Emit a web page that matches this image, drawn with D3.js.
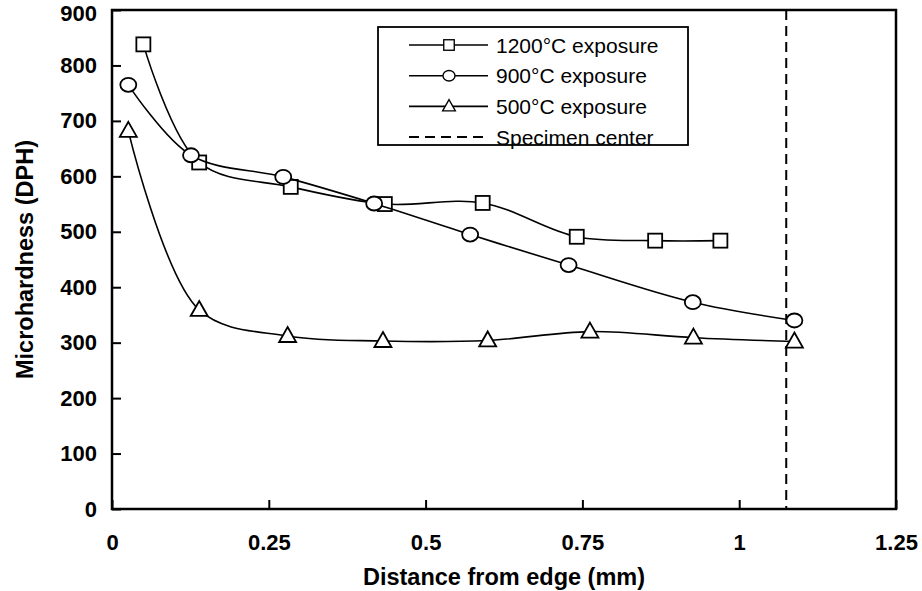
<!DOCTYPE html>
<html>
<head>
<meta charset="utf-8">
<script src="https://cdn.jsdelivr.net/npm/d3@7"></script>
<style>
  body { margin: 0; background: #fff; }
  svg { display: block; }
</style>
</head>
<body>
<div id="chart"></div>
<script>
// data
const seriesNames = ["1200°C exposure", "900°C exposure", "500°C exposure"];
const markerTypes = ["square", "circle", "triangle"];

const dist1200 = [0.050, 0.139, 0.285, 0.435, 0.591, 0.741, 0.866, 0.970];
const hard1200 = [838, 625, 581, 550, 552, 491, 484, 484];

const dist900 = [0.026, 0.126, 0.273, 0.418, 0.571, 0.728, 0.926, 1.088];
const hard900 = [765, 638, 599, 551, 495, 440, 373, 340];

const dist500 = [0.026, 0.139, 0.280, 0.432, 0.599, 0.762, 0.927, 1.088];
const hard500 = [682, 359, 312, 303, 304, 320, 309, 302];

const centerDist = 1.075;
const centerLabel = "Specimen center";

const xTicks = [0, 0.25, 0.5, 0.75, 1, 1.25];
const yTicks = [0, 100, 200, 300, 400, 500, 600, 700, 800, 900];

const series = [
  { name: seriesNames[0], marker: markerTypes[0], xs: dist1200, ys: hard1200 },
  { name: seriesNames[1], marker: markerTypes[1], xs: dist900, ys: hard900 },
  { name: seriesNames[2], marker: markerTypes[2], xs: dist500, ys: hard500 },
];

const W = 922, H = 591;
const margin = { top: 10, right: 26, bottom: 82, left: 112 };
const width = W - margin.left - margin.right;
const height = H - margin.top - margin.bottom;

const svg = d3.select("#chart").append("svg")
  .attr("width", W)
  .attr("height", H);

const g = svg.append("g")
  .attr("transform", `translate(${margin.left},${margin.top})`);

const x = d3.scaleLinear().domain([0, 1.25]).range([0, width]);
const y = d3.scaleLinear().domain([0, 900]).range([height, 0]);

const fontFamily = "'Liberation Sans', Arial, sans-serif";

// axes, ticks pointing inward
const xAxis = g.append("g")
  .attr("transform", `translate(0,${height})`)
  .call(d3.axisBottom(x).tickValues(xTicks).tickSize(-9).tickPadding(25)
    .tickFormat((d) => String(d)));

const yAxis = g.append("g")
  .call(d3.axisLeft(y).tickValues(yTicks).tickSize(-9).tickPadding(15)
    .tickFormat(d3.format("d")));

[xAxis, yAxis].forEach((a) => {
  a.select(".domain").remove();
  a.selectAll(".tick line").attr("stroke", "#000").attr("stroke-width", 2);
  a.selectAll(".tick text")
    .attr("fill", "#000")
    .style("font-family", fontFamily)
    .style("font-weight", "bold")
    .style("font-size", "22px");
});

// top label sits a little lower so it is not clipped
yAxis.selectAll(".tick text")
  .filter((d) => d === 900)
  .attr("y", 3);

// plot frame
g.append("rect")
  .attr("x", 0).attr("y", 0)
  .attr("width", width).attr("height", height)
  .attr("fill", "none")
  .attr("stroke", "#000")
  .attr("stroke-width", 2.5);

// specimen center dashed line
g.append("line")
  .attr("x1", x(centerDist)).attr("x2", x(centerDist))
  .attr("y1", 0).attr("y2", height)
  .attr("stroke", "#000")
  .attr("stroke-width", 2)
  .attr("stroke-dasharray", "10,6");

const line = d3.line()
  .x((d) => x(d[0]))
  .y((d) => y(d[1]))
  .curve(d3.curveCatmullRom.alpha(0.5));

const drawMarker = (sel, type) => {
  if (type === "square") {
    sel.append("rect")
      .attr("x", -7).attr("y", -7).attr("width", 14).attr("height", 14);
  } else if (type === "circle") {
    sel.append("ellipse").attr("rx", 8).attr("ry", 7);
  } else {
    sel.append("path").attr("d", "M0,-9L8.5,6L-8.5,6Z");
  }
  sel.selectAll("*")
    .attr("fill", "#fff")
    .attr("stroke", "#000")
    .attr("stroke-width", 1.8);
};

series.forEach((s) => {
  const pts = s.xs.map((v, i) => [v, s.ys[i]]);
  g.append("path")
    .datum(pts)
    .attr("fill", "none")
    .attr("stroke", "#000")
    .attr("stroke-width", 1.6)
    .attr("d", line);

  g.append("g")
    .selectAll("g")
    .data(pts)
    .join("g")
    .attr("transform", (d) => `translate(${x(d[0])},${y(d[1])})`)
    .each(function () { drawMarker(d3.select(this), s.marker); });
});

// axis titles
svg.append("text")
  .attr("x", margin.left + width / 2)
  .attr("y", 585)
  .attr("text-anchor", "middle")
  .style("font-family", fontFamily)
  .style("font-weight", "bold")
  .style("font-size", "23.5px")
  .text("Distance from edge (mm)");

svg.append("text")
  .attr("transform", `translate(33,${margin.top + height / 2}) rotate(-90)`)
  .attr("text-anchor", "middle")
  .style("font-family", fontFamily)
  .style("font-weight", "bold")
  .style("font-size", "23.5px")
  .text("Microhardness (DPH)");

// legend
const legend = svg.append("g").attr("transform", "translate(378,27)");
legend.append("rect")
  .attr("width", 310).attr("height", 118)
  .attr("fill", "#fff")
  .attr("stroke", "#000")
  .attr("stroke-width", 1.8);

const legendItems = series.map((s) => ({ name: s.name, marker: s.marker }))
  .concat([{ name: centerLabel, marker: "dash" }]);

const rows = legend.selectAll(".row")
  .data(legendItems)
  .join("g")
  .attr("class", "row")
  .attr("transform", (d, i) => `translate(0,${18 + i * 30.7})`);

rows.append("line")
  .attr("x1", 31).attr("x2", 110)
  .attr("stroke", "#000")
  .attr("stroke-width", (d) => (d.marker === "dash" ? 2 : 1.6))
  .attr("stroke-dasharray", (d) => (d.marker === "dash" ? "10,6" : null));

rows.filter((d) => d.marker !== "dash")
  .append("g")
  .attr("transform", "translate(71,0) scale(0.75)")
  .each(function (d) { drawMarker(d3.select(this), d.marker); });

rows.append("text")
  .attr("x", 118)
  .attr("dy", "0.36em")
  .style("font-family", fontFamily)
  .style("font-size", "21px")
  .text((d) => d.name);
</script>
</body>
</html>
